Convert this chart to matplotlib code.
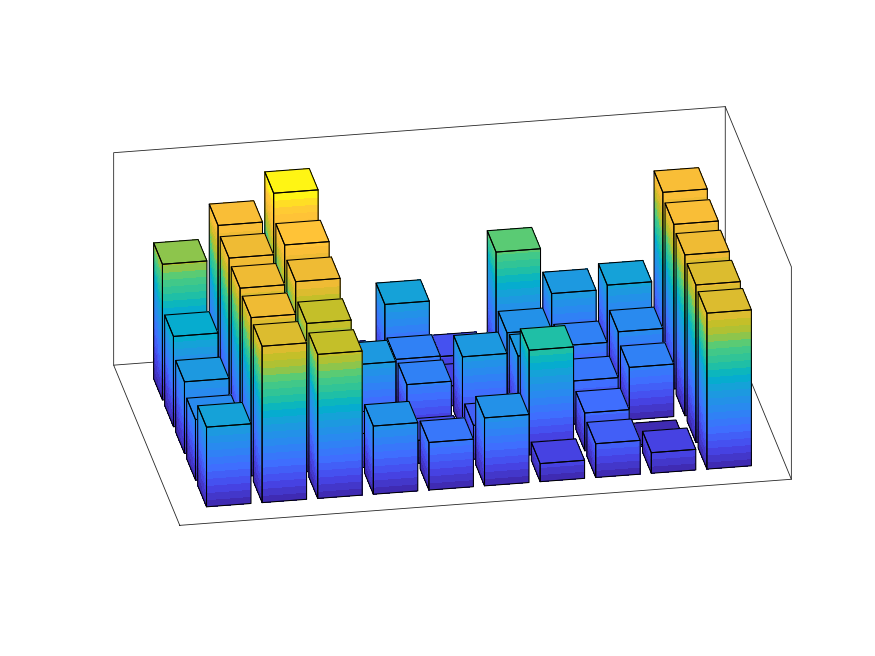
import numpy as np
import matplotlib
matplotlib.use("Agg")
import matplotlib.pyplot as plt
from matplotlib.colors import LinearSegmentedColormap
from mpl_toolkits.mplot3d.art3d import Poly3DCollection

# Bar heights, one list per row (front row first), columns 1..10
row1 = [3.75, 7.36, 6.78, 3.21, 2.24, 3.20, 0.85, 1.59, 0.97, 7.34]
row2 = [2.85, 7.45, 6.98, 1.60, 1.08, 1.59, 4.93, 1.78, 0.09, 7.41]
row3 = [3.37, 7.58, 7.69, 3.57, 2.45, 3.56, 3.40, 2.03, 2.47, 7.57]
row4 = [4.25, 7.74, 8.16, 1.18, 2.38, 0.94, 3.24, 2.43, 2.89, 7.75]
row5 = [6.39, 8.02, 9.34, 1.04, 3.71, 1.06, 5.78, 3.63, 3.83, 8.00]
rows = [row1, row2, row3, row4, row5]

parula = LinearSegmentedColormap.from_list("parula_like", [
    (0.00, (0.2422, 0.1504, 0.6603)),
    (0.10, (0.2803, 0.2782, 0.9221)),
    (0.20, (0.2440, 0.4358, 0.9988)),
    (0.30, (0.1600, 0.5400, 0.9400)),
    (0.40, (0.1000, 0.6200, 0.8600)),
    (0.46, (0.0000, 0.6900, 0.8000)),
    (0.53, (0.1500, 0.7600, 0.6200)),
    (0.62, (0.3100, 0.8000, 0.4900)),
    (0.68, (0.6500, 0.7600, 0.2200)),
    (0.73, (0.7600, 0.7500, 0.1600)),
    (0.79, (0.9200, 0.7300, 0.2000)),
    (0.86, (1.0000, 0.7500, 0.2200)),
    (0.92, (1.0000, 0.8000, 0.2000)),
    (1.00, (1.0000, 1.0000, 0.0500)),
])

N_LEVELS = 28
W = 0.4
zmax = max(max(r) for r in rows)


def level_color(v):
    q = np.clip(np.floor(v / zmax * N_LEVELS) + 0.5, 0, N_LEVELS) / N_LEVELS
    return parula(min(q, 1.0))


S = 1000
fig = plt.figure(figsize=(8.75, 6.56), dpi=100)
ax = fig.add_axes([-61 / 875, -173.5 / 656, S / 875, S / 656], projection="3d",
                  proj_type="ortho", computed_zorder=False)
ax.set_xlim(0, 11)
ax.set_ylim(0, 6)
ax.set_zlim(0, 10)
ax.set_box_aspect((620, 380, 234.6), zoom=0.743)
ax.view_init(elev=25.3, azim=-100)
ax.set_axis_off()

# Box
edge = (0.15, 0.15, 0.15)
for xs, ys, zs in [
    ([0, 11, 11, 0, 0], [0, 0, 6, 6, 0], [0, 0, 0, 0, 0]),
    ([0, 0, 11, 11], [6, 6, 6, 6], [0, 10, 10, 0]),
    ([11, 11, 11], [6, 0, 0], [10, 10, 0]),
]:
    ax.plot(xs, ys, zs, color=edge, lw=0.6, zorder=1)

z = 2
for j in range(4, -1, -1):
    for i in range(9, -1, -1):
        h = rows[j][i]
        x0, x1 = i + 1 - W, i + 1 + W
        y0, y1 = j + 1 - W, j + 1 + W
        step = zmax / N_LEVELS
        edges = np.arange(0, h, step)
        edges = np.append(edges, h)
        polys, cols = [], []
        # left face with slanted colouring
        n_c = 5
        ts = np.linspace(0, 1, n_c + 1)
        fine = np.unique(np.append(np.arange(0, h, step / 2), h))
        for a, b in zip(fine[:-1], fine[1:]):
            for t0, t1 in zip(ts[:-1], ts[1:]):
                yy0 = y1 + (y0 - y1) * t0
                yy1 = y1 + (y0 - y1) * t1
                polys.append([(x0, yy0, a), (x0, yy1, a), (x0, yy1, b), (x0, yy0, b)])
                zc, tc = (a + b) / 2, (t0 + t1) / 2
                zr = zc / h
                cols.append(level_color(zc * (1 - 0.6 * (1 - tc) * (1 - zr))))
        # front face
        for a, b in zip(edges[:-1], edges[1:]):
            polys.append([(x0, y0, a), (x1, y0, a), (x1, y0, b), (x0, y0, b)])
            cols.append(level_color((a + b) / 2))
        # top
        polys.append([(x0, y0, h), (x1, y0, h), (x1, y1, h), (x0, y1, h)])
        cols.append(level_color(h * 0.99))
        pc = Poly3DCollection(polys, facecolors=cols, edgecolors=cols, linewidths=0.0,
                              antialiaseds=False, zorder=z)
        ax.add_collection3d(pc)
        outl = [
            [(x0, y1, 0), (x0, y0, 0), (x0, y0, h), (x0, y1, h)],
            [(x0, y0, 0), (x1, y0, 0), (x1, y0, h), (x0, y0, h)],
            [(x0, y0, h), (x1, y0, h), (x1, y1, h), (x0, y1, h)],
        ]
        oc = Poly3DCollection(outl, facecolors=(0, 0, 0, 0), edgecolors="black", linewidths=0.75, zorder=z + 1)
        ax.add_collection3d(oc)
        z += 2

fig.savefig("out.png", dpi=100)
